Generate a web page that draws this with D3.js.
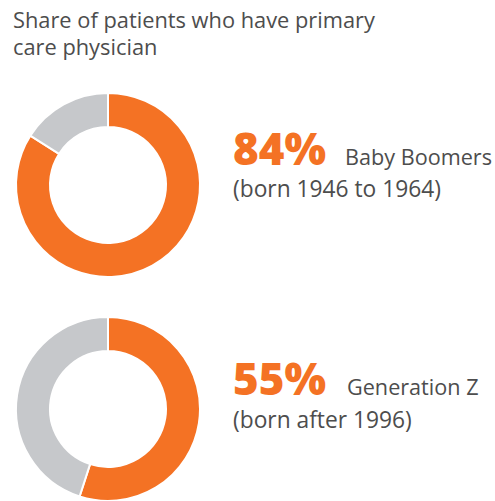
<!DOCTYPE html>
<html>
<head>
<meta charset="utf-8">
<script src="https://cdn.jsdelivr.net/npm/d3@7"></script>
<style>
  body { margin: 0; background: #fff; }
  text { font-family: "Open Sans", "Noto Sans", sans-serif; }
</style>
</head>
<body>
<div id="root"></div>
<script>
// DATA
const groups = ["Baby Boomers", "Generation Z"];
const ranges = ["(born 1946 to 1964)", "(born after 1996)"];
const shares = [84, 55];
const titleLines = ["Share of patients who have primary", "care physician"];

// DIMENSIONS
const width = 495, height = 501;
const orange = "#f47224", grey = "#c6c8cb", ink = "#4d4d4d";

const svg = d3.select("#root").append("svg")
  .attr("width", width)
  .attr("height", height);

// fit text to a measured width by adjusting font size
function fit(sel, w) {
  const node = sel.node();
  const fs = parseFloat(sel.attr("font-size"));
  const len = node.getComputedTextLength();
  sel.attr("font-size", (fs * w / len).toFixed(2));
  return +sel.attr("font-size");
}

// TITLE
svg.selectAll(".title")
  .data(titleLines)
  .join("text")
  .attr("class", "title")
  .attr("x", 13)
  .attr("y", (d, i) => 28 + i * 27)
  .attr("fill", ink)
  .attr("font-size", 20)
  .text(d => d);
fit(svg.select(".title"), 362);
svg.selectAll(".title").attr("font-size", svg.select(".title").attr("font-size"));

// SCALES
const yDonut = d3.scalePoint().domain(groups).range([185, 409]);
const yLabel = d3.scalePoint().domain(groups).range([165, 395]);
const ySub = d3.scalePoint().domain(groups).range([197, 428]);

const pie = d3.pie().sort(null).value(d => d);
const arc = d3.arc().innerRadius(58).outerRadius(92);

let pctSize = null, nameSize = null, subSize = null;
groups.forEach((g, i) => {
  const gg = svg.append("g")
    .attr("transform", `translate(108,${yDonut(g)})`);
  gg.selectAll("path")
    .data(pie([shares[i], 100 - shares[i]]))
    .join("path")
    .attr("d", arc)
    .attr("fill", (d, j) => j === 0 ? orange : grey)
    .attr("stroke", "#fff")
    .attr("stroke-width", 2);

  const pct = svg.append("text")
    .attr("x", 233)
    .attr("y", yLabel(g))
    .attr("fill", orange)
    .attr("font-weight", 800)
    .attr("font-size", pctSize || 36)
    .text(shares[i] + "%");
  if (pctSize === null) pctSize = fit(pct, 93);

  const name = svg.append("text")
    .attr("x", i === 0 ? 345 : 347)
    .attr("y", yLabel(g))
    .attr("fill", ink)
    .attr("font-size", nameSize || 20)
    .text(g);
  if (nameSize === null) nameSize = fit(name, 147);

  const sub = svg.append("text")
    .attr("x", 233)
    .attr("y", ySub(g))
    .attr("fill", ink)
    .attr("font-size", subSize || 20)
    .text(ranges[i]);
  if (subSize === null) subSize = fit(sub, 208);
});
</script>
</body>
</html>
